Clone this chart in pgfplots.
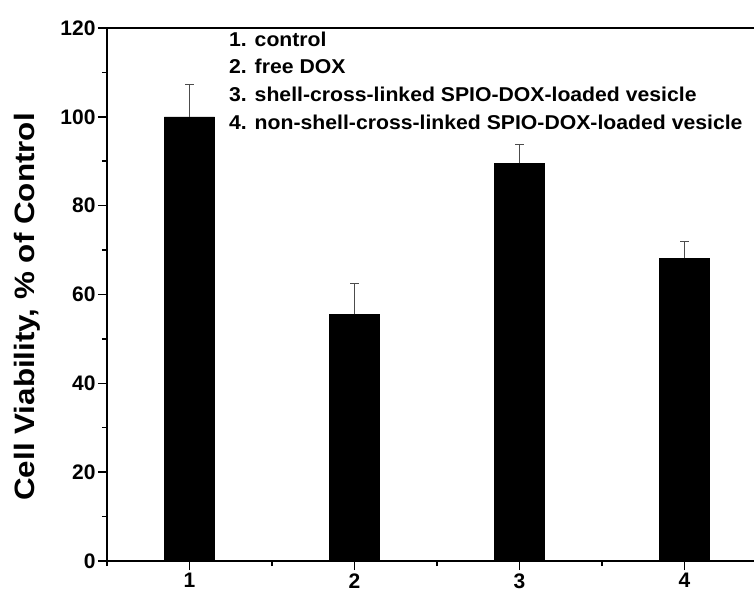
\documentclass[border=0pt]{standalone}
\usepackage{pgfplots}
\pgfplotsset{compat=1.18}
\usepackage{fontspec}
\setmainfont{Liberation Sans}
\begin{document}
\begin{tikzpicture}
\useasboundingbox (-107pt,-33pt) rectangle (647pt,561pt);
\begin{axis}[
  at={(0,0)}, anchor=south west,
  scale only axis,
  width=660pt, height=533pt,
  xmin=0.5, xmax=4.5,
  ymin=0, ymax=120,
  axis x line=box, axis y line=left,
  x axis line style={-}, y axis line style={-},
  axis line style={line width=1.6pt, black},
  xtick={1,2,3,4},
  xticklabels={1,2,3,4},
  minor xtick={0.5,1.5,2.5,3.5},
  ytick={0,20,...,120},
  minor ytick={10,30,...,110},
  xtick pos=bottom, ytick pos=left,
  tick align=outside,
  major tick length=9pt, minor tick length=5pt,
  every tick/.style={line width=1.5pt, black},
  /pgf/number format/assume math mode=true,
  tick label style={font=\fontsize{21}{24}\selectfont\bfseries},
  yticklabel style={xshift=1pt},
  xticklabel style={yshift=0pt},
  clip=false,
]
\addplot[ybar, bar width=50pt, fill=black, draw=black,
  error bars/.cd, y dir=plus, y explicit,
  error bar style={line width=0.8pt, black!70},
  error mark options={rotate=90, mark size=4.5pt, line width=0.8pt, black!70}]
  coordinates {
  (1,100) +- (0,7.2)
  (2,55.5) +- (0,7.0)
  (3,89.5) +- (0,4.3)
  (4,68.2) +- (0,3.8)
};
\end{axis}
\begin{scope}[every node/.style={anchor=base west, font=\fontsize{20}{24}\selectfont\bfseries, inner sep=0pt}]
\node at (122pt,514pt) {\scalebox{1.06}[1]{1. control}};
\node at (122pt,487pt) {\scalebox{1.06}[1]{2. free DOX}};
\node at (122pt,459pt) {\scalebox{1.06}[1]{3. shell-cross-linked SPIO-DOX-loaded vesicle}};
\node at (122pt,431pt) {\scalebox{1.06}[1]{4. non-shell-cross-linked SPIO-DOX-loaded vesicle}};
\end{scope}
\node[rotate=90, font=\fontsize{28}{32}\selectfont\bfseries] at (-80pt,254pt) {\scalebox{1.12}[1]{Cell Viability, \% of Control}};
\end{tikzpicture}
\end{document}
